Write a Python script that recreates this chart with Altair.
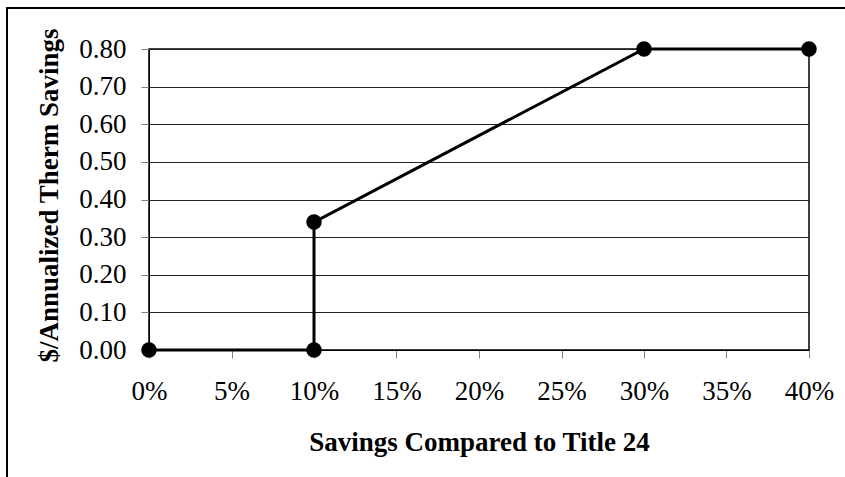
import altair as alt
import pandas as pd

# Data
savings = [0.00, 0.10, 0.10, 0.30, 0.40]
dollars = [0.00, 0.00, 0.34, 0.80, 0.80]
x_ticks = [0.00, 0.05, 0.10, 0.15, 0.20, 0.25, 0.30, 0.35, 0.40]
y_ticks = [0.0, 0.1, 0.2, 0.3, 0.4, 0.5, 0.6, 0.7, 0.8]

df = pd.DataFrame({"idx": list(range(len(savings))), "savings": savings, "dollars": dollars})
frame_df = pd.DataFrame({"k": [0]})

FONT = "Liberation Serif"
FS = 27
W, H = 660, 301

x_enc = alt.X(
    "savings:Q",
    scale=alt.Scale(domain=[0, 0.4], nice=False, zero=False),
    axis=alt.Axis(
        values=x_ticks,
        format=".0%",
        title="Savings Compared to Title 24",
        grid=False,
        tickSize=8,
        tickColor="#808080",
        domainColor="black",
        labelPadding=20,
        labelFlush=False,
        labelOverlap=False,
        labelFont=FONT,
        labelFontSize=FS,
        labelColor="black",
        titleFont=FONT,
        titleFontSize=FS,
        titleFontWeight="bold",
        titleColor="black",
        titleY=100,
        titleX=W / 2,
        titleAlign="center",
        titleBaseline="alphabetic",
    ),
)
y_enc = alt.Y(
    "dollars:Q",
    scale=alt.Scale(domain=[0, 0.8], nice=False),
    axis=alt.Axis(
        values=y_ticks,
        format=".2f",
        title="$/Annualized Therm Savings",
        grid=True,
        gridColor="#222222",
        gridWidth=1,
        gridOpacity=1,
        tickSize=8,
        tickColor="#808080",
        domainColor="black",
        labelPadding=15,
        labelFlush=False,
        labelOverlap=False,
        labelFont=FONT,
        labelFontSize=FS,
        labelColor="black",
        titleFont=FONT,
        titleFontSize=FS,
        titleFontWeight="bold",
        titleColor="black",
        titleX=-92,
        titleY=146,
        titleAngle=270,
        titleAlign="center",
        titleBaseline="alphabetic",
    ),
)

base = alt.Chart(df).encode(x=x_enc, y=y_enc)
line = base.mark_line(color="black", strokeWidth=3).encode(order="idx:Q")
pts = base.mark_point(filled=True, color="black", size=240, opacity=1, shape="circle")
frame = alt.Chart(frame_df).mark_rect(filled=False, stroke="black", strokeWidth=2).encode(
    x=alt.value(-142), x2=alt.value(710), y=alt.value(-41), y2=alt.value(445)
)

chart = (
    alt.layer(line, pts, frame)
    .properties(
        width=W,
        height=H,
        autosize=alt.AutoSizeParams(type="none"),
        padding={"left": 149, "top": 49, "right": 36, "bottom": 127},
        background="white",
    )
    .configure_view(stroke="black", strokeWidth=1.5)
)

chart.save("out.html", embed_options={"renderer": "svg", "actions": False})
